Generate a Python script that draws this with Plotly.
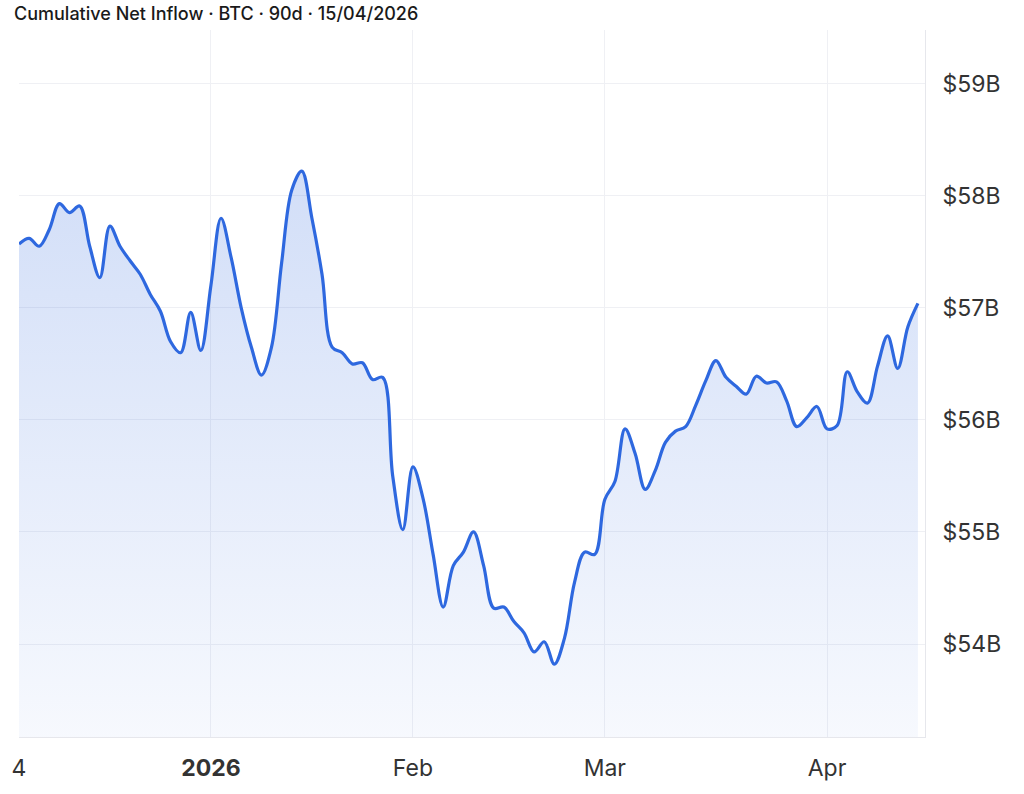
import pandas as pd
import plotly.graph_objects as go

# Trading days (90 sessions ending 15/04/2026)
holidays = ["2025-12-25", "2026-01-01", "2026-01-19", "2026-02-16", "2026-04-03"]
dates = [d.strftime("%Y-%m-%d") for d in pd.bdate_range("2025-12-04", "2026-04-15")
         if d.strftime("%Y-%m-%d") not in holidays]

# Cumulative net inflow, $B
values = [
    57.57, 57.62, 57.55, 57.70, 57.93, 57.85, 57.91, 57.55, 57.27, 57.73,
    57.55, 57.42, 57.30, 57.12, 56.97, 56.70, 56.60, 56.96, 56.62, 57.20,
    57.80, 57.45, 57.00, 56.65, 56.40, 56.65, 57.40, 58.05, 58.22, 57.80,
    57.30, 56.65, 56.60, 56.50, 56.51, 56.36, 56.38, 55.50, 55.02, 55.58,
    55.30, 54.80, 54.33, 54.70, 54.82, 55.00, 54.70, 54.32, 54.33, 54.20,
    54.10, 53.93, 54.02, 53.82, 54.05, 54.55, 54.82, 54.80, 55.29, 55.45,
    55.92, 55.70, 55.38, 55.55, 55.80, 55.90, 55.94, 56.13, 56.35, 56.53,
    56.38, 56.30, 56.23, 56.39, 56.33, 56.34, 56.17, 55.94, 56.02, 56.12,
    55.92, 55.95, 56.43, 56.25, 56.15, 56.48, 56.75, 56.46, 56.83, 57.04,
]

tick_dates = ["2025-12-04", "2026-01-02", "2026-02-02", "2026-03-02", "2026-04-01"]
tick_text = ["4", "<b>2026</b>", "Feb", "Mar", "Apr"]
y_ticks = [54, 55, 56, 57, 58, 59]
y_text = ["$54B", "$55B", "$56B", "$57B", "$58B", "$59B"]

Y_MIN, Y_MAX = 53.17, 59.48

fig = go.Figure()
fig.add_trace(go.Scatter(
    x=dates, y=values, mode="lines",
    line=dict(color="#2e68df", width=3.2, shape="spline", smoothing=1.0),
    fill="tozeroy",
    fillgradient=dict(type="vertical", start=Y_MIN, stop=58.4,
                      colorscale=[[0, "rgba(45,102,221,0.04)"],
                                  [1, "rgba(45,102,221,0.22)"]]),
    hoverinfo="skip", showlegend=False,
))

fig.update_layout(
    width=1024, height=794,
    margin=dict(l=18, r=99, t=30, b=55),
    paper_bgcolor="white", plot_bgcolor="white",
    font=dict(family="Inter", color="#333333"),
    title=dict(text="Cumulative Net Inflow · BTC · 90d · 15/04/2026",
               x=14 / 1024, xanchor="left", xref="container",
               y=1 - 14 / 794, yanchor="middle", yref="container",
               font=dict(family="Inter", size=18, weight=500, color="#1a1a1a")),
)
fig.update_xaxes(
    type="category", range=[0, 89.7],
    tickmode="array", tickvals=tick_dates, ticktext=tick_text,
    showgrid=True, gridcolor="#eff0f4", gridwidth=1,
    showline=True, linecolor="#e6e7ec", linewidth=1,
    ticks="", ticklabelstandoff=10,
    tickfont=dict(family="Inter", size=23, color="#333333"),
    zeroline=False,
)
fig.update_yaxes(
    side="right", range=[Y_MIN, Y_MAX],
    tickmode="array", tickvals=y_ticks, ticktext=y_text,
    showgrid=True, gridcolor="#eff0f4", gridwidth=1,
    showline=True, linecolor="#e6e7ec", linewidth=1,
    ticks="", ticklabelstandoff=12,
    tickfont=dict(family="Inter", size=23, color="#333333"),
    zeroline=False,
)

fig.write_html(
    "out.html",
    config={"displayModeBar": False},
    post_script="document.body.style.margin='0';document.body.style.overflow='hidden';",
)
